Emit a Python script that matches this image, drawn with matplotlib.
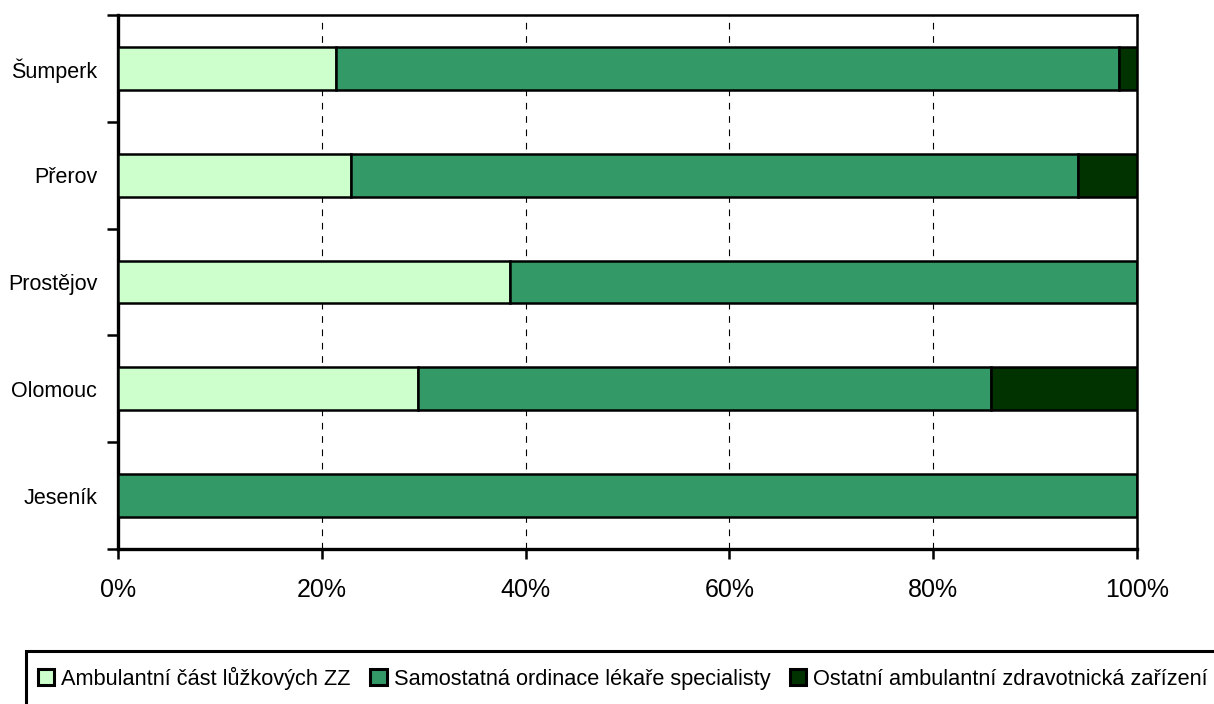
import numpy as np
import matplotlib
matplotlib.use("Agg")
import matplotlib.pyplot as plt
from matplotlib.patches import Rectangle
from matplotlib.ticker import PercentFormatter, FixedLocator

plt.rcParams['font.family'] = ['Liberation Sans', 'DejaVu Sans']

# data (share in %)
districts = ["Šumperk", "Přerov", "Prostějov", "Olomouc", "Jeseník"]
ambulantni_cast = [21.4, 22.9, 38.5, 29.4, 0.0]
samostatna_ordinace = [76.8, 71.3, 61.5, 56.3, 100.0]
ostatni_zarizeni = [1.8, 5.8, 0.0, 14.3, 0.0]

series_names = ["Ambulantní část lůžkových ZZ",
                "Samostatná ordinace lékaře specialisty",
                "Ostatní ambulantní zdravotnická zařízení"]
colors = ["#CCFFCC", "#339966", "#003300"]

W, H = 1214, 704
fig = plt.figure(figsize=(W / 100, H / 100), dpi=100)
ax = fig.add_axes([118 / W, 1 - 549 / H, (1137 - 118) / W, (549 - 15) / H])

y = np.arange(len(districts))
left = np.zeros(len(districts))
for values, name, col in zip([ambulantni_cast, samostatna_ordinace, ostatni_zarizeni], series_names, colors):
    vals = np.array(values)
    ax.barh(y, vals, left=left, height=0.4, color=col, edgecolor="black", linewidth=1.8, label=name, zorder=3)
    left = left + vals

ax.set_xlim(0, 100)
ax.set_ylim(len(districts) - 0.5, -0.5)

ax.xaxis.set_major_locator(FixedLocator([0, 20, 40, 60, 80, 100]))
ax.xaxis.set_major_formatter(PercentFormatter(decimals=0))
ax.tick_params(axis="x", direction="out", length=7, width=1.8, labelsize=18, pad=14)

ax.set_yticks(y)
ax.set_yticklabels(districts)
ax.yaxis.set_minor_locator(FixedLocator(np.arange(-0.5, len(districts), 1.0)))
ax.tick_params(axis="y", which="major", length=0, labelsize=15.5, pad=15)
ax.tick_params(axis="y", which="minor", direction="out", length=8, width=1.8)

for x in [20, 40, 60, 80]:
    ax.axvline(x, color="black", linestyle=(0, (6, 6)), linewidth=0.8, zorder=1)

for side in ["left", "bottom"]:
    ax.spines[side].set_linewidth(2.4)
for side in ["top", "right"]:
    ax.spines[side].set_linewidth(1.8)

# legend frame runs past the right and bottom edge of the picture
fig.patches.append(Rectangle((25.5 / W, -0.1), 1.2, 1.1 - 651 / H, transform=fig.transFigure,
                             facecolor="none", edgecolor="black", linewidth=2.2))

leg = fig.legend(loc="center left", bbox_to_anchor=(38 / W, 1 - 678 / H), ncol=3,
                 fontsize=15.7, frameon=False,
                 handlelength=0.75, handleheight=0.75, handletextpad=0.32, columnspacing=0.9,
                 borderpad=0, borderaxespad=0)
for h in leg.legend_handles:
    h.set_linewidth(2.2)

plt.savefig("out.png", dpi=100, facecolor="white")
